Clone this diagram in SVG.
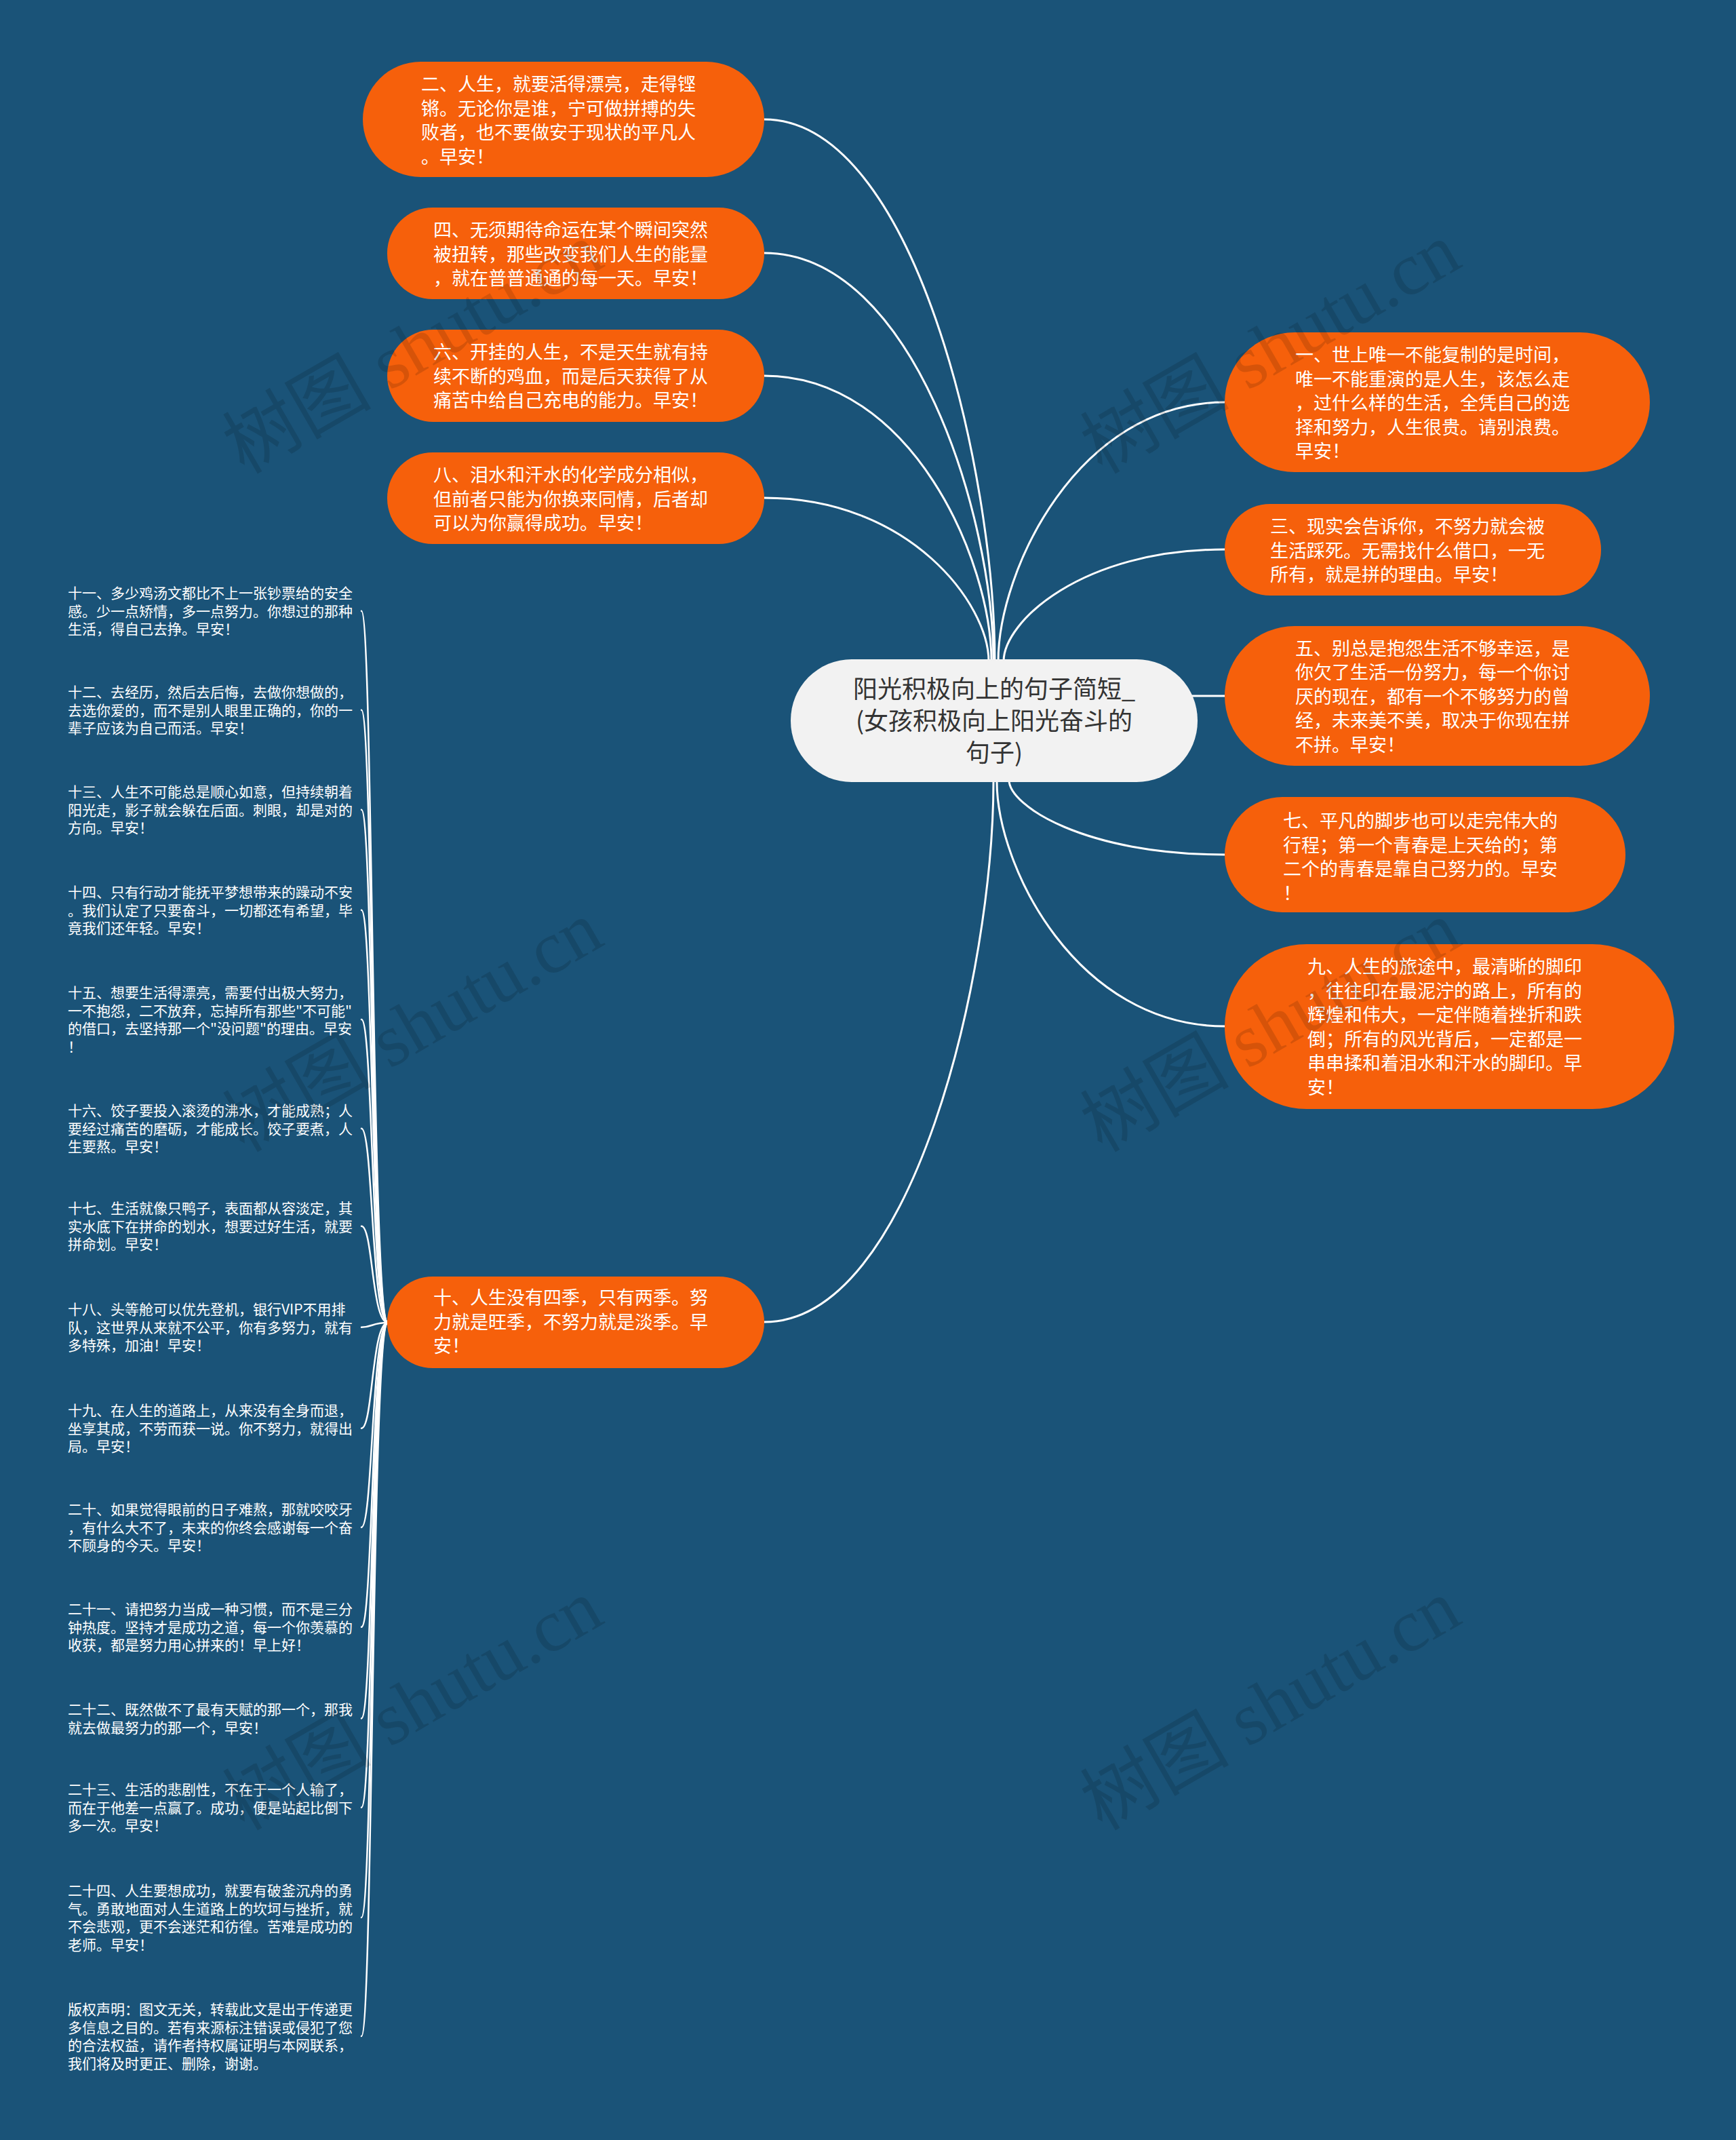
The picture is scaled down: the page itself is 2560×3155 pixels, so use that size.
<svg xmlns="http://www.w3.org/2000/svg" width="2560" height="3155" viewBox="0 0 2560 3155">
<style>
.bg{fill:#1a5378}
.conn path{fill:none;stroke:#ffffff;stroke-width:3;stroke-linecap:round}
.conn .br{stroke-width:2.5}
.root rect{fill:#f2f2f2}
.root text{font-family:"Noto Sans CJK SC","Noto Sans",sans-serif;font-size:36px;fill:#333333;text-anchor:middle}
.on rect{fill:#f6600b}
.on text{font-family:"Noto Sans CJK SC","Noto Sans",sans-serif;font-size:27px;fill:#ffffff}
.lt text{font-family:"Noto Sans CJK SC","Noto Sans",sans-serif;font-size:21px;fill:#ffffff}
.wm text{font-family:"Liberation Serif","Noto Sans CJK SC",serif;font-size:110px;fill:#000000;fill-opacity:0.13}
</style>
<rect class="bg" x="0" y="0" width="2560" height="3155"/>

<g id="connectors" class="conn">
<path d="M1467,990 L1467,975 C1467,695 1348,176 1127,176"/>
<path d="M1465,990 L1465,975 C1465,764 1347,373 1127,373"/>
<path d="M1462,990 L1462,975 C1462,828 1345,554 1127,554"/>
<path d="M1458,990 L1458,975 C1458,891 1342,734 1127,734"/>
<path d="M1472,990 L1472,975 C1472,842 1589,593 1806,593"/>
<path d="M1480,990 L1480,975 C1480,917 1594,810 1806,810"/>
<path d="M1700,1026 L1806,1026"/>
<path d="M1488,1135 L1488,1150 C1488,1188 1600,1260 1806,1260"/>
<path d="M1470,1135 L1470,1152 C1470,1278 1588,1513 1806,1513"/>
<path d="M1465,1135 L1465,1152 C1465,1431 1347,1949 1127,1949"/>
<path class="br" d="M572,1950 C548,1950 550,900.7 533,900.7"/>
<path class="br" d="M572,1950 C548,1950 550,1046.7 533,1046.7"/>
<path class="br" d="M572,1950 C548,1950 550,1193.7 533,1193.7"/>
<path class="br" d="M572,1950 C548,1950 550,1341.7 533,1341.7"/>
<path class="br" d="M572,1950 C548,1950 550,1503 533,1503"/>
<path class="br" d="M572,1950 C548,1950 550,1663.7 533,1663.7"/>
<path class="br" d="M572,1950 C548,1950 550,1807.7 533,1807.7"/>
<path class="br" d="M572,1950 C548,1950 550,1956.7 533,1956.7"/>
<path class="br" d="M572,1950 C548,1950 550,2105.7 533,2105.7"/>
<path class="br" d="M572,1950 C548,1950 550,2251.7 533,2251.7"/>
<path class="br" d="M572,1950 C548,1950 550,2398.7 533,2398.7"/>
<path class="br" d="M572,1950 C548,1950 550,2533.4 533,2533.4"/>
<path class="br" d="M572,1950 C548,1950 550,2664.7 533,2664.7"/>
<path class="br" d="M572,1950 C548,1950 550,2827 533,2827"/>
<path class="br" d="M572,1950 C548,1950 550,3002 533,3002"/>
</g>

<g id="root" class="root">
<rect x="1166" y="972" width="600" height="181" rx="90"/>
<text x="1466" y="1029">阳光积极向上的句子简短_<tspan x="1466" dy="47">(女孩积极向上阳光奋斗的</tspan><tspan x="1466" dy="47">句子)</tspan></text>
</g>

<g id="n2" class="on">
<rect x="535" y="91" width="592" height="170" rx="85"/>
<text x="621" y="134">二、人生，就要活得漂亮，走得铿<tspan x="621" dy="35.6">锵。无论你是谁，宁可做拼搏的失</tspan><tspan x="621" dy="35.6">败者，也不要做安于现状的平凡人</tspan><tspan x="621" dy="35.6">。早安！</tspan></text>
</g>
<g id="n4" class="on">
<rect x="571" y="306" width="556" height="135" rx="67"/>
<text x="639" y="349">四、无须期待命运在某个瞬间突然<tspan x="639" dy="35.6">被扭转，那些改变我们人生的能量</tspan><tspan x="639" dy="35.6">，就在普普通通的每一天。早安！</tspan></text>
</g>
<g id="n6" class="on">
<rect x="571" y="486" width="556" height="136" rx="68"/>
<text x="639" y="529">六、开挂的人生，不是天生就有持<tspan x="639" dy="35.6">续不断的鸡血，而是后天获得了从</tspan><tspan x="639" dy="35.6">痛苦中给自己充电的能力。早安！</tspan></text>
</g>
<g id="n8" class="on">
<rect x="571" y="667" width="556" height="135" rx="67"/>
<text x="639" y="710">八、泪水和汗水的化学成分相似，<tspan x="639" dy="35.6">但前者只能为你换来同情，后者却</tspan><tspan x="639" dy="35.6">可以为你赢得成功。早安！</tspan></text>
</g>
<g id="n10" class="on">
<rect x="571" y="1882" width="556" height="135" rx="67"/>
<text x="639" y="1923">十、人生没有四季，只有两季。努<tspan x="639" dy="35.6">力就是旺季，不努力就是淡季。早</tspan><tspan x="639" dy="35.6">安！</tspan></text>
</g>
<g id="n1" class="on">
<rect x="1806" y="490" width="627" height="206" rx="103"/>
<text x="1910" y="533">一、世上唯一不能复制的是时间，<tspan x="1910" dy="35.6">唯一不能重演的是人生，该怎么走</tspan><tspan x="1910" dy="35.6">，过什么样的生活，全凭自己的选</tspan><tspan x="1910" dy="35.6">择和努力，人生很贵。请别浪费。</tspan><tspan x="1910" dy="35.6">早安！</tspan></text>
</g>
<g id="n3" class="on">
<rect x="1806" y="743" width="555" height="135" rx="67"/>
<text x="1873" y="786">三、现实会告诉你，不努力就会被<tspan x="1873" dy="35.6">生活踩死。无需找什么借口，一无</tspan><tspan x="1873" dy="35.6">所有，就是拼的理由。早安！</tspan></text>
</g>
<g id="n5" class="on">
<rect x="1806" y="923" width="627" height="206" rx="103"/>
<text x="1910" y="965.5">五、别总是抱怨生活不够幸运，是<tspan x="1910" dy="35.6">你欠了生活一份努力，每一个你讨</tspan><tspan x="1910" dy="35.6">厌的现在，都有一个不够努力的曾</tspan><tspan x="1910" dy="35.6">经，未来美不美，取决于你现在拼</tspan><tspan x="1910" dy="35.6">不拼。早安！</tspan></text>
</g>
<g id="n7" class="on">
<rect x="1806" y="1175" width="591" height="170" rx="85"/>
<text x="1892" y="1220">七、平凡的脚步也可以走完伟大的<tspan x="1892" dy="35.6">行程；第一个青春是上天给的；第</tspan><tspan x="1892" dy="35.6">二个的青春是靠自己努力的。早安</tspan><tspan x="1892" dy="35.6">！</tspan></text>
</g>
<g id="n9" class="on">
<rect x="1806" y="1392" width="663" height="243" rx="121"/>
<text x="1928" y="1435">九、人生的旅途中，最清晰的脚印<tspan x="1928" dy="35.6">，往往印在最泥泞的路上，所有的</tspan><tspan x="1928" dy="35.6">辉煌和伟大，一定伴随着挫折和跌</tspan><tspan x="1928" dy="35.6">倒；所有的风光背后，一定都是一</tspan><tspan x="1928" dy="35.6">串串揉和着泪水和汗水的脚印。早</tspan><tspan x="1928" dy="35.6">安！</tspan></text>
</g>

<g id="t11" class="lt"><text x="100" y="882">十一、多少鸡汤文都比不上一张钞票给的安全<tspan x="100" dy="26.7">感。少一点矫情，多一点努力。你想过的那种</tspan><tspan x="100" dy="26.7">生活，得自己去挣。早安！</tspan></text></g>
<g id="t12" class="lt"><text x="100" y="1028">十二、去经历，然后去后悔，去做你想做的，<tspan x="100" dy="26.7">去选你爱的，而不是别人眼里正确的，你的一</tspan><tspan x="100" dy="26.7">辈子应该为自己而活。早安！</tspan></text></g>
<g id="t13" class="lt"><text x="100" y="1175">十三、人生不可能总是顺心如意，但持续朝着<tspan x="100" dy="26.7">阳光走，影子就会躲在后面。刺眼，却是对的</tspan><tspan x="100" dy="26.7">方向。早安！</tspan></text></g>
<g id="t14" class="lt"><text x="100" y="1323">十四、只有行动才能抚平梦想带来的躁动不安<tspan x="100" dy="26.7">。我们认定了只要奋斗，一切都还有希望，毕</tspan><tspan x="100" dy="26.7">竟我们还年轻。早安！</tspan></text></g>
<g id="t15" class="lt"><text x="100" y="1471">十五、想要生活得漂亮，需要付出极大努力，<tspan x="100" dy="26.7">一不抱怨，二不放弃，忘掉所有那些"不可能"</tspan><tspan x="100" dy="26.7">的借口，去坚持那一个"没问题"的理由。早安</tspan><tspan x="100" dy="26.7">！</tspan></text></g>
<g id="t16" class="lt"><text x="100" y="1645">十六、饺子要投入滚烫的沸水，才能成熟；人<tspan x="100" dy="26.7">要经过痛苦的磨砺，才能成长。饺子要煮，人</tspan><tspan x="100" dy="26.7">生要熬。早安！</tspan></text></g>
<g id="t17" class="lt"><text x="100" y="1789">十七、生活就像只鸭子，表面都从容淡定，其<tspan x="100" dy="26.7">实水底下在拼命的划水，想要过好生活，就要</tspan><tspan x="100" dy="26.7">拼命划。早安！</tspan></text></g>
<g id="t18" class="lt"><text x="100" y="1938">十八、头等舱可以优先登机，银行VIP不用排<tspan x="100" dy="26.7">队，这世界从来就不公平，你有多努力，就有</tspan><tspan x="100" dy="26.7">多特殊，加油！早安！</tspan></text></g>
<g id="t19" class="lt"><text x="100" y="2087">十九、在人生的道路上，从来没有全身而退，<tspan x="100" dy="26.7">坐享其成，不劳而获一说。你不努力，就得出</tspan><tspan x="100" dy="26.7">局。早安！</tspan></text></g>
<g id="t20" class="lt"><text x="100" y="2233">二十、如果觉得眼前的日子难熬，那就咬咬牙<tspan x="100" dy="26.7">，有什么大不了，未来的你终会感谢每一个奋</tspan><tspan x="100" dy="26.7">不顾身的今天。早安！</tspan></text></g>
<g id="t21" class="lt"><text x="100" y="2380">二十一、请把努力当成一种习惯，而不是三分<tspan x="100" dy="26.7">钟热度。坚持才是成功之道，每一个你羡慕的</tspan><tspan x="100" dy="26.7">收获，都是努力用心拼来的！早上好！</tspan></text></g>
<g id="t22" class="lt"><text x="100" y="2528">二十二、既然做不了最有天赋的那一个，那我<tspan x="100" dy="26.7">就去做最努力的那一个，早安！</tspan></text></g>
<g id="t23" class="lt"><text x="100" y="2646">二十三、生活的悲剧性，不在于一个人输了，<tspan x="100" dy="26.7">而在于他差一点赢了。成功，便是站起比倒下</tspan><tspan x="100" dy="26.7">多一次。早安！</tspan></text></g>
<g id="t24" class="lt"><text x="100" y="2795">二十四、人生要想成功，就要有破釜沉舟的勇<tspan x="100" dy="26.7">气。勇敢地面对人生道路上的坎坷与挫折，就</tspan><tspan x="100" dy="26.7">不会悲观，更不会迷茫和彷徨。苦难是成功的</tspan><tspan x="100" dy="26.7">老师。早安！</tspan></text></g>
<g id="t25" class="lt"><text x="100" y="2970">版权声明：图文无关，转载此文是出于传递更<tspan x="100" dy="26.7">多信息之目的。若有来源标注错误或侵犯了您</tspan><tspan x="100" dy="26.7">的合法权益，请作者持权属证明与本网联系，</tspan><tspan x="100" dy="26.7">我们将及时更正、删除，谢谢。</tspan></text></g>

<g id="watermark" class="wm">
<text transform="translate(360,700) rotate(-30)">树图 shutu.cn</text>
<text transform="translate(1625,700) rotate(-30)">树图 shutu.cn</text>
<text transform="translate(360,1700) rotate(-30)">树图 shutu.cn</text>
<text transform="translate(1625,1700) rotate(-30)">树图 shutu.cn</text>
<text transform="translate(360,2700) rotate(-30)">树图 shutu.cn</text>
<text transform="translate(1625,2700) rotate(-30)">树图 shutu.cn</text>
</g>
</svg>
